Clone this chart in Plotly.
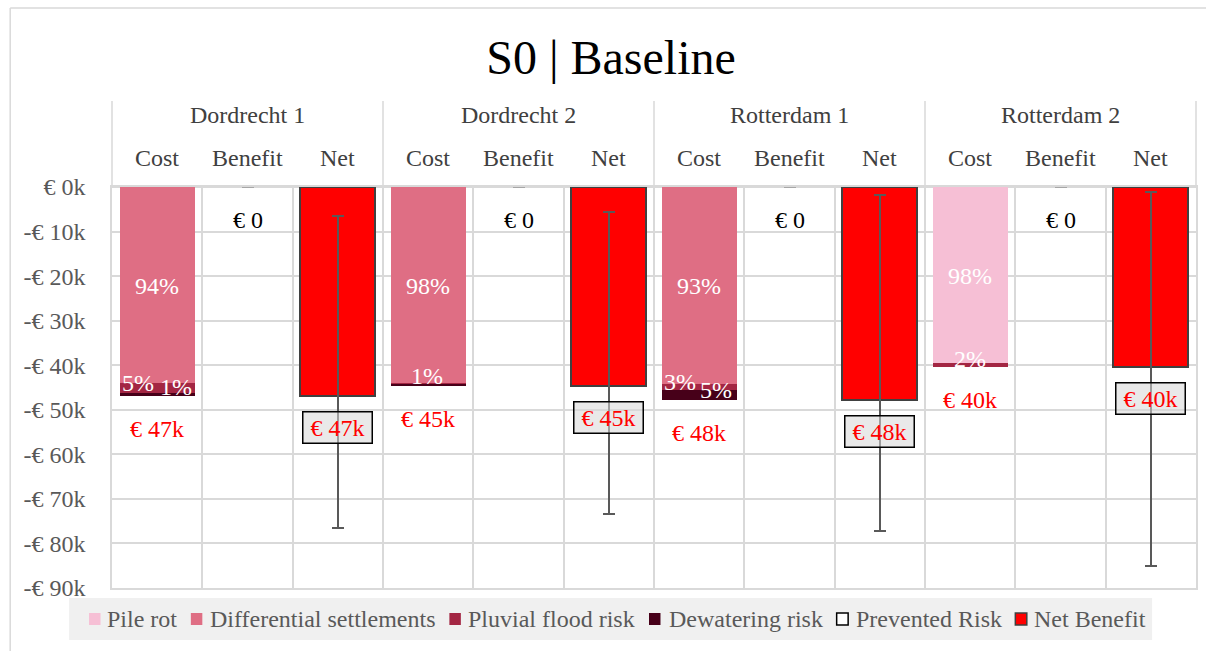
import plotly.graph_objects as go

# ---- data (thousands of euros) ----
locations = ["Dordrecht 1", "Dordrecht 2", "Rotterdam 1", "Rotterdam 2"]
columns = ["Cost", "Benefit", "Net"]

pile_rot = [0.0, 0.0, 0.0, 39.5]
differential_settlements = [44.0, 43.9, 44.2, 0.0]
pluvial_flood_risk = [2.3, 0.5, 1.3, 0.8]
dewatering_risk = [0.5, 0.2, 2.2, 0.0]
prevented_risk = [0.0, 0.0, 0.0, 0.0]

# uncertainty band of the net benefit
net_upper = [-6.4, -5.7, -1.7, -1.2]
net_lower = [-76.5, -73.4, -77.2, -85.0]

y_ticks = [0, -10, -20, -30, -40, -50, -60, -70, -80, -90]
y_tick_labels = ["€ 0k", "-€ 10k", "-€ 20k", "-€ 30k", "-€ 40k",
                 "-€ 50k", "-€ 60k", "-€ 70k", "-€ 80k", "-€ 90k"]

# ---- derived values ----
cost_parts = [
    ("Pile rot", pile_rot, "#F6BFD5"),
    ("Differential settlements", differential_settlements, "#DF6E84"),
    ("Pluvial flood risk", pluvial_flood_risk, "#A32643"),
    ("Dewatering risk", dewatering_risk, "#470019"),
]
cost_total = [sum(p[1][i] for p in cost_parts) for i in range(len(locations))]
net_benefit = [prevented_risk[i] - cost_total[i] for i in range(len(locations))]

cost_x = [3 * g for g in range(len(locations))]
benefit_x = [3 * g + 1 for g in range(len(locations))]
net_x = [3 * g + 2 for g in range(len(locations))]

FONT = "Liberation Serif"
GRID = "#D9D9D9"
W, H = 1206, 651
ML, MR, MT, MB = 112, 8, 187, 63
PW, PH = W - ML - MR, H - MT - MB


def px_x(px):
    return (px - ML) / PW


def px_y(py):
    return (H - MB - py) / PH


fig = go.Figure()

for name, values, color in cost_parts:
    fig.add_trace(go.Bar(
        x=cost_x, y=[-v for v in values], name=name, width=0.83,
        marker=dict(color=color, line=dict(width=0)), showlegend=False,
    ))

fig.add_trace(go.Bar(
    x=benefit_x, y=prevented_risk, name="Prevented Risk", width=0.83,
    marker=dict(color="white", line=dict(width=0)), showlegend=False,
    error_y=dict(type="data", array=[0] * 4, color="#A6A6A6", thickness=1.5, width=6),
))

fig.add_trace(go.Bar(
    x=net_x, y=net_benefit, name="Net Benefit", width=0.83,
    marker=dict(color="#FF0000", line=dict(color="#404040", width=2)), showlegend=False,
    error_y=dict(
        type="data", symmetric=False,
        array=[net_upper[i] - net_benefit[i] for i in range(4)],
        arrayminus=[net_benefit[i] - net_lower[i] for i in range(4)],
        color="#595959", thickness=2, width=6,
    ),
))

annotations = []

# percentage share labels inside the cost stacks
label_shift = {
    (0, "Pluvial flood risk"): (-19, 5),
    (0, "Dewatering risk"): (19, 7),
    (1, "Pluvial flood risk"): (-1, 8),
    (2, "Pluvial flood risk"): (-19, 5),
    (2, "Dewatering risk"): (17, 5),
    (3, "Pluvial flood risk"): (0, 6),
}
for g in range(len(locations)):
    base = 0.0
    for name, values, _ in cost_parts:
        v = values[g]
        share = round(100 * v / cost_total[g])
        if share >= 1:
            dx, dy = label_shift.get((g, name), (0, -1))
            annotations.append(dict(
                x=cost_x[g], y=-(base + v / 2), xref="x", yref="y",
                text=f"{share}%", showarrow=False, xshift=dx, yshift=dy,
                font=dict(family=FONT, size=24, color="white"),
            ))
        base += v

    # totals under the bars
    annotations.append(dict(
        x=cost_x[g], y=-cost_total[g], xref="x", yref="y",
        text=f"€ {round(cost_total[g])}k", showarrow=False, yshift=-33,
        font=dict(family=FONT, size=24, color="#FF0000"),
    ))
    annotations.append(dict(
        x=benefit_x[g], y=prevented_risk[g], xref="x", yref="y",
        text=f"€ {round(prevented_risk[g])}", showarrow=False, yshift=-33,
        font=dict(family=FONT, size=24, color="black"),
    ))
    annotations.append(dict(
        x=net_x[g], y=net_benefit[g], xref="x", yref="y",
        text=f"€ {round(abs(net_benefit[g]))}k", showarrow=False, yshift=-32,
        font=dict(family=FONT, size=24, color="#FF0000"),
        bgcolor="rgba(215,215,215,0.55)", bordercolor="black", borderwidth=1.5,
        borderpad=2, width=64,
    ))

# column headers above the plot
for g, loc in enumerate(locations):
    annotations.append(dict(
        x=3 * g + 1, y=px_y(115), xref="x", yref="paper", text=loc, showarrow=False,
        font=dict(family=FONT, size=24, color="#404040"), yanchor="middle",
    ))
    for k, col in enumerate(columns):
        annotations.append(dict(
            x=3 * g + k, y=px_y(158), xref="x", yref="paper", text=col, showarrow=False,
            font=dict(family=FONT, size=24, color="#404040"), yanchor="middle",
        ))

shapes = []
# group dividers in the header band
for g in range(len(locations) + 1):
    shapes.append(dict(type="line", xref="paper", yref="paper",
                       x0=g / len(locations), x1=g / len(locations),
                       y0=1, y1=px_y(101), line=dict(color=GRID, width=1.5)))

# chart frame
shapes.append(dict(type="line", xref="paper", yref="paper", x0=px_x(10), x1=px_x(1212),
                   y0=px_y(8), y1=px_y(8), line=dict(color=GRID, width=1.5)))
shapes.append(dict(type="line", xref="paper", yref="paper", x0=px_x(10), x1=px_x(10),
                   y0=px_y(8), y1=px_y(660), line=dict(color=GRID, width=1.5)))

# legend
shapes.append(dict(type="rect", xref="paper", yref="paper", x0=px_x(69), x1=px_x(1154),
                   y0=px_y(598), y1=px_y(640), fillcolor="#F0F0F0", line=dict(width=0),
                   layer="below"))
legend_items = [
    ("Pile rot", "#F6BFD5", None, 89, 105),
    ("Differential settlements", "#DF6E84", None, 191, 208),
    ("Pluvial flood risk", "#A32643", None, 450, 467),
    ("Dewatering risk", "#470019", None, 650, 668),
    ("Prevented Risk", "white", "black", 838, 855),
    ("Net Benefit", "#FF0000", "#404040", 1017, 1034),
]
for text, fill, edge, sx, tx in legend_items:
    shapes.append(dict(
        type="rect", xref="paper", yref="paper",
        x0=px_x(sx), x1=px_x(sx + 11.5), y0=px_y(613), y1=px_y(625),
        fillcolor=fill, line=dict(color=edge or fill, width=1.5 if edge else 0),
    ))
    annotations.append(dict(
        x=px_x(tx), y=px_y(619), xref="paper", yref="paper", text=text,
        showarrow=False, xanchor="left", yanchor="middle",
        font=dict(family=FONT, size=24, color="#595959"),
    ))

fig.update_layout(
    width=W, height=H,
    margin=dict(l=ML, r=MR, t=MT, b=MB),
    paper_bgcolor="white", plot_bgcolor="white",
    barmode="stack", bargap=0,
    showlegend=False,
    title=dict(text="S0 | Baseline", x=611 / W, xref="container", xanchor="center",
               y=1 - 57 / H, yref="container", yanchor="middle",
               font=dict(family=FONT, size=48, color="black")),
    xaxis=dict(range=[-0.5, 11.5], tickvals=[i - 0.5 for i in range(13)],
               showticklabels=False, ticks="", showgrid=True, gridcolor=GRID, gridwidth=1.5,
               showline=True, linecolor=GRID, linewidth=1.5, mirror=True, zeroline=False),
    yaxis=dict(range=[-90, 0], tickvals=y_ticks, ticktext=y_tick_labels,
               showgrid=True, gridcolor=GRID, gridwidth=1.5, zeroline=True,
               zerolinecolor=GRID, zerolinewidth=1.5, ticks="", ticklabelstandoff=20,
               showline=True, linecolor=GRID, linewidth=1.5, mirror=True,
               tickfont=dict(family=FONT, size=24, color="#595959")),
    annotations=annotations,
    shapes=shapes,
)

fig.write_html("out.html")
